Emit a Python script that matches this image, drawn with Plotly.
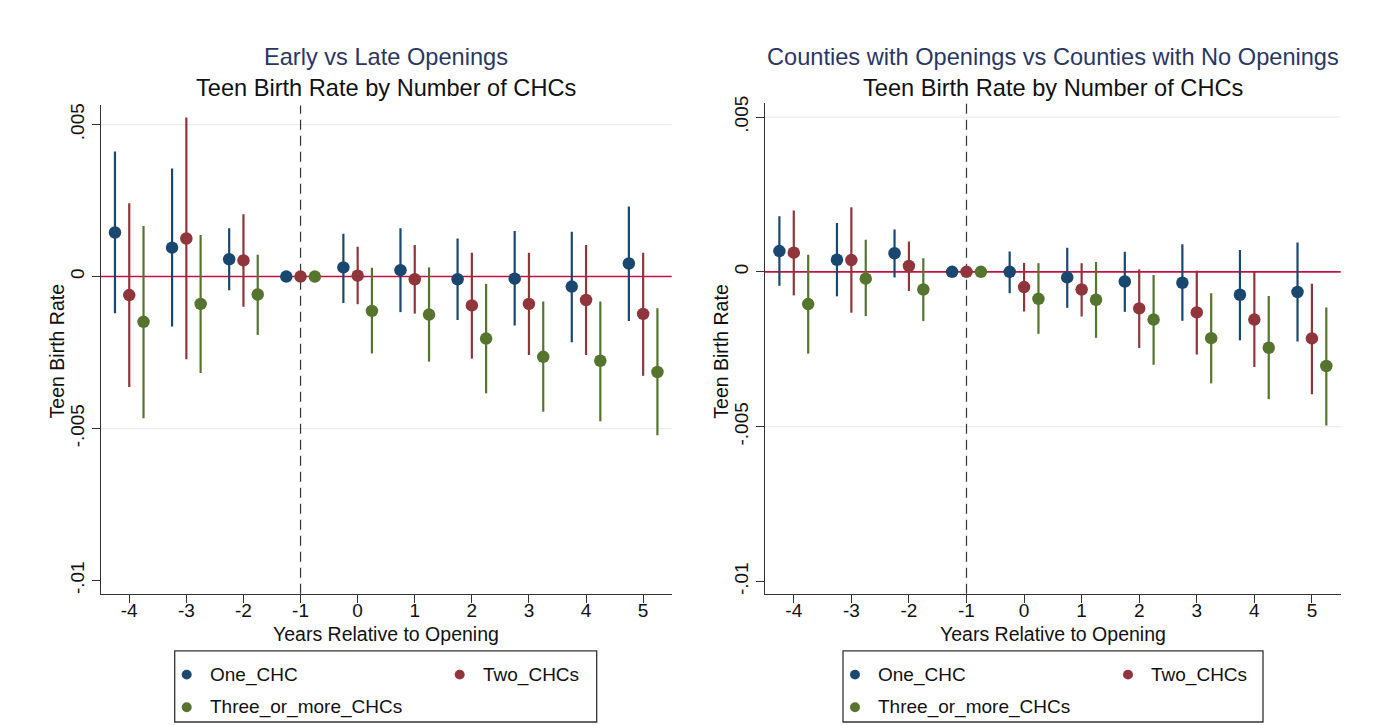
import plotly.graph_objects as go

# ---------------- data ----------------
years = [-4, -3, -2, -1, 0, 1, 2, 3, 4, 5]
series_names = ["One_CHC", "Two_CHCs", "Three_or_more_CHCs"]

# Panel 1: Early vs Late Openings
p1_one_est = [0.00145, 0.00095, 0.00057, 0, 0.00030, 0.00021, -0.00009, -0.00007, -0.00033, 0.00043]
p1_one_lo = [-0.00121, -0.00164, -0.00045, 0, -0.00087, -0.00117, -0.00143, -0.00161, -0.00216, -0.00146]
p1_one_hi = [0.00411, 0.00355, 0.00159, 0, 0.00141, 0.00159, 0.00125, 0.00150, 0.00147, 0.00230]
p1_two_est = [-0.00061, 0.00125, 0.00053, 0, 0.00003, -0.00009, -0.00095, -0.00090, -0.00077, -0.00123]
p1_two_lo = [-0.00363, -0.00272, -0.00099, 0, -0.00091, -0.00122, -0.00270, -0.00258, -0.00258, -0.00326]
p1_two_hi = [0.00241, 0.00523, 0.00205, 0, 0.00098, 0.00104, 0.00078, 0.00078, 0.00104, 0.00078]
p1_three_est = [-0.00149, -0.00090, -0.00059, 0, -0.00113, -0.00125, -0.00204, -0.00264, -0.00277, -0.00314]
p1_three_lo = [-0.00466, -0.00317, -0.00192, 0, -0.00253, -0.00280, -0.00384, -0.00445, -0.00476, -0.00522]
p1_three_hi = [0.00166, 0.00137, 0.00072, 0, 0.00029, 0.00030, -0.00024, -0.00082, -0.00082, -0.00104]

# Panel 2: Counties with Openings vs Counties with No Openings
p2_one_est = [0.00067, 0.00039, 0.00060, 0, 0.0, -0.00018, -0.00031, -0.00035, -0.00074, -0.00065]
p2_one_lo = [-0.00045, -0.00079, -0.00018, 0, -0.00069, -0.00116, -0.00129, -0.00158, -0.00221, -0.00225]
p2_one_hi = [0.00180, 0.00158, 0.00137, 0, 0.00066, 0.00078, 0.00065, 0.00089, 0.00071, 0.00095]
p2_two_est = [0.00062, 0.00038, 0.00019, 0, -0.00049, -0.00057, -0.00118, -0.00131, -0.00154, -0.00215]
p2_two_lo = [-0.00076, -0.00132, -0.00062, 0, -0.00128, -0.00144, -0.00246, -0.00267, -0.00307, -0.00395]
p2_two_hi = [0.00198, 0.00209, 0.00098, 0, 0.00029, 0.00028, 0.00008, 0.00004, 0.0, -0.00038]
p2_three_est = [-0.00104, -0.00022, -0.00057, 0, -0.00087, -0.00090, -0.00154, -0.00214, -0.00245, -0.00304]
p2_three_lo = [-0.00264, -0.00143, -0.00159, 0, -0.00200, -0.00213, -0.00300, -0.00360, -0.00411, -0.00496]
p2_three_hi = [0.00055, 0.00104, 0.00044, 0, 0.00028, 0.00032, -0.00010, -0.00069, -0.00078, -0.00115]

panel_titles = ["Early vs Late Openings", "Counties with Openings vs Counties with No Openings"]
panel_subtitle = "Teen Birth Rate by Number of CHCs"
x_title = "Years Relative to Opening"
y_title = "Teen Birth Rate"
y_tickvals = [0.005, 0, -0.005, -0.01]
y_ticktext = [".005", "0", "-.005", "-.01"]
grid_vals = [0.005, -0.005]
ref_year = -1

# ---------------- style ----------------
W, H = 1377, 725
colors = ["#1a476f", "#90353b", "#55752f"]
offsets = [-0.25, 0.0, 0.25]
FONT = "Liberation Sans, Arial, Helvetica, sans-serif"
title_color = "#2a3763"
zero_color = "#c4123d"


def px(x):
    return x / W


def py(y):
    return 1 - y / H


panels = [
    dict(est=[p1_one_est, p1_two_est, p1_three_est],
         lo=[p1_one_lo, p1_two_lo, p1_three_lo],
         hi=[p1_one_hi, p1_two_hi, p1_three_hi],
         xdom=(100.7, 671.7), ydom=(98.6, 593.0), yrange=[-0.01043, 0.00563], cx=386,
         legx=(74, 496)),
    dict(est=[p2_one_est, p2_two_est, p2_three_est],
         lo=[p2_one_lo, p2_two_lo, p2_three_lo],
         hi=[p2_one_hi, p2_two_hi, p2_three_hi],
         xdom=(765.0, 1340.7), ydom=(96.6, 593.0), yrange=[-0.01039, 0.00544], cx=1053,
         legx=(78, 498)),
]

fig = go.Figure()
shapes = []
annotations = []

for i, p in enumerate(panels):
    ax = "" if i == 0 else str(i + 1)
    xref, yref = "x" + ax, "y" + ax
    # grid lines
    for g in grid_vals:
        shapes.append(dict(type="line", xref=xref + " domain", yref=yref, x0=0, x1=1, y0=g, y1=g,
                           line=dict(color="#ececec", width=1.2), layer="below"))
    # zero line
    shapes.append(dict(type="line", xref=xref + " domain", yref=yref, x0=0, x1=1, y0=0, y1=0,
                       line=dict(color=zero_color, width=1.6), layer="below"))
    # reference dashed line
    shapes.append(dict(type="line", xref=xref, yref=yref + " domain", x0=ref_year, x1=ref_year, y0=0, y1=1,
                       line=dict(color="#333333", width=1.2, dash="10px,6px"), layer="below"))
    for s in range(3):
        xs = [y + offsets[s] for y in years]
        est = p["est"][s]
        plus = [h - e for h, e in zip(p["hi"][s], est)]
        minus = [e - l for e, l in zip(est, p["lo"][s])]
        fig.add_trace(go.Scatter(
            x=xs, y=est, mode="markers", name=series_names[s], showlegend=False,
            xaxis=xref, yaxis=yref,
            marker=dict(color=colors[s], size=12.5, line=dict(width=0)),
            error_y=dict(type="data", symmetric=False, array=plus, arrayminus=minus,
                         color=colors[s], thickness=2.2, width=0),
        ))
    x0, x1 = p["xdom"]
    yt, yb = p["ydom"]
    axis_common = dict(showline=True, linecolor="#333333", linewidth=1.3, ticks="outside",
                       ticklen=8, tickwidth=1.3, tickcolor="#333333", showgrid=False, zeroline=False,
                       tickfont=dict(family=FONT, size=19, color="#111111"))
    fig.update_layout({
        "xaxis" + ax: dict(domain=[px(x0), px(x1)], range=[-4.5, 5.5], tickvals=years,
                           ticktext=[str(y) for y in years], anchor="y" + ax,
                           ticklabelstandoff=-9, **axis_common),
        "yaxis" + ax: dict(domain=[py(yb), py(yt)], range=p["yrange"],
                           tickvals=y_tickvals, ticktext=y_ticktext, tickangle=-90,
                           anchor="x" + ax, **axis_common),
    })
    cx = p["cx"]
    annotations += [
        dict(text=panel_titles[i], x=px(cx), y=py(50), xref="paper", yref="paper", showarrow=False,
             xanchor="center", yanchor="middle", font=dict(family=FONT, size=23.6, color=title_color)),
        dict(text=panel_subtitle, x=px(cx), y=py(81), xref="paper", yref="paper", showarrow=False,
             xanchor="center", yanchor="middle", font=dict(family=FONT, size=23.6, color="#111111")),
        dict(text=x_title, x=px(cx), y=py(634), xref="paper", yref="paper", showarrow=False,
             xanchor="center", yanchor="middle", font=dict(family=FONT, size=19.5, color="#111111")),
        dict(text=y_title, x=px(x0 - 44), y=py(348), xref="paper", yref="paper", showarrow=False,
             textangle=-90, xanchor="center", yanchor="middle", font=dict(family=FONT, size=19.5, color="#111111")),
    ]
    # manual legend (two-column Stata style)
    bl, br = x0 + p["legx"][0], x0 + p["legx"][1]
    bt, bb = 651, 723
    shapes.append(dict(type="rect", xref="paper", yref="paper", x0=px(bl), x1=px(br), y0=py(bb), y1=py(bt),
                       line=dict(color="#333333", width=1.3), fillcolor="white"))
    leg_pos = [(bl + 12, 675), (bl + 285, 675), (bl + 12, 708)]
    for s, (lx, ly) in enumerate(leg_pos):
        r = 5
        shapes.append(dict(type="circle", xref="paper", yref="paper", x0=px(lx - r), x1=px(lx + r),
                           y0=py(ly + r), y1=py(ly - r), fillcolor=colors[s], line=dict(width=0)))
        annotations.append(dict(text=series_names[s], x=px(lx + 21), y=py(ly), xref="paper", yref="paper",
                                showarrow=False, xanchor="left", yanchor="middle",
                                font=dict(family=FONT, size=19, color="#111111")))

fig.update_layout(
    width=W, height=H, margin=dict(l=0, r=0, t=0, b=0),
    paper_bgcolor="white", plot_bgcolor="white",
    shapes=shapes, annotations=annotations, showlegend=False,
)

fig.write_html("out.html")
